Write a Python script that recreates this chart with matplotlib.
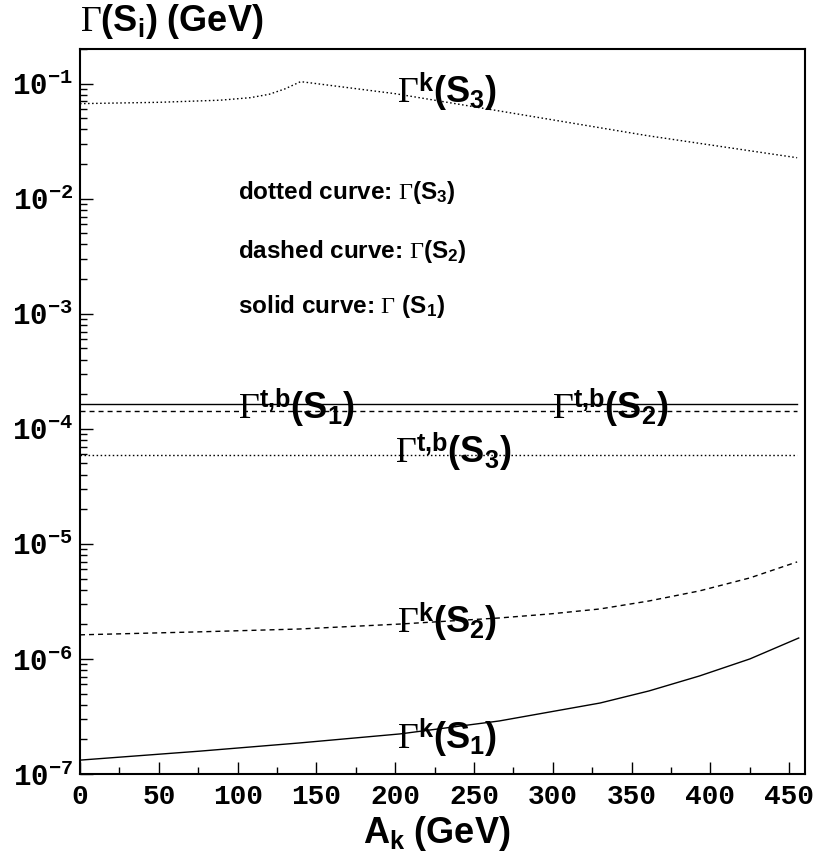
import numpy as np
import matplotlib
matplotlib.use("Agg")
import matplotlib.pyplot as plt
from matplotlib.ticker import FixedLocator, NullFormatter, FuncFormatter, MultipleLocator

plt.rcParams['mathtext.fontset'] = 'custom'
plt.rcParams['mathtext.rm'] = 'Liberation Serif'
plt.rcParams['mathtext.it'] = 'Liberation Serif'
plt.rcParams['mathtext.bf'] = 'Liberation Sans:bold'
plt.rcParams['mathtext.tt'] = 'Liberation Mono:bold'

# ---- data ----
x_k_s3 = [0, 50, 89, 108, 120, 130, 140, 170, 200, 265, 360, 455]
g_k_s3 = [0.0670, 0.0688, 0.0718, 0.0755, 0.0808, 0.0900, 0.1041, 0.0923, 0.0818, 0.0582, 0.0353, 0.0227]

x_k_s2 = [0, 76, 139, 203, 266, 298, 330, 361, 393, 425, 455]
g_k_s2 = [1.62e-6, 1.72e-6, 1.82e-6, 2.01e-6, 2.27e-6, 2.46e-6, 2.72e-6, 3.19e-6, 3.90e-6, 5.06e-6, 6.97e-6]

x_k_s1 = [0, 76, 139, 203, 266, 330, 361, 393, 425, 456]
g_k_s1 = [1.32e-7, 1.58e-7, 1.86e-7, 2.23e-7, 2.89e-7, 4.14e-7, 5.27e-7, 7.11e-7, 1.0e-6, 1.52e-6]

x_tb = [0, 455]
g_tb_s1 = [1.65e-4, 1.65e-4]
g_tb_s2 = [1.43e-4, 1.43e-4]
g_tb_s3 = [5.98e-5, 5.98e-5]

x_ticks = [0, 50, 100, 150, 200, 250, 300, 350, 400, 450]
y_exps = [-7, -6, -5, -4, -3, -2, -1]

W, H = 819, 861
fig = plt.figure(figsize=(W / 100, H / 100), dpi=100)
ax = fig.add_axes([80 / W, 1 - 774 / H, (805 - 80) / W, (774 - 49) / H])

dot = (0, (1.1, 1.8))
dash = (0, (3.6, 2.9))
lw = 1.0
ax.plot(x_k_s3, g_k_s3, color='black', lw=lw, linestyle=dot)
ax.plot(x_k_s2, g_k_s2, color='black', lw=lw, linestyle=dash)
ax.plot(x_k_s1, g_k_s1, color='black', lw=lw, linestyle='-')
ax.plot(x_tb, g_tb_s1, color='black', lw=lw, linestyle='-')
ax.plot(x_tb, g_tb_s2, color='black', lw=lw, linestyle=dash)
ax.plot(x_tb, g_tb_s3, color='black', lw=lw, linestyle=dot)

ax.set_yscale('log')
ax.set_xlim(0, 460)
ax.set_ylim(1e-7, 0.2)

ax.set_xticks(x_ticks)
ax.set_xticklabels([str(t) for t in x_ticks])
ax.xaxis.set_minor_locator(MultipleLocator(25))
majors = [10.0 ** e for e in y_exps]
minors = [m * 10.0 ** e for e in y_exps for m in range(2, 10) if m * 10.0 ** e <= 0.2]
ax.yaxis.set_major_locator(FixedLocator(majors))
ax.yaxis.set_minor_locator(FixedLocator(minors))
ax.yaxis.set_minor_formatter(NullFormatter())
ax.yaxis.set_major_formatter(FuncFormatter(
    lambda v, p: r'$\mathtt{10^{%d}}$' % int(round(np.log10(v)))))

for sp in ax.spines.values():
    sp.set_linewidth(1.5)
ax.tick_params(which='both', direction='in', top=False, right=False, width=1.0)
ax.tick_params(which='major', length=9)
ax.tick_params(which='minor', length=5)
ax.tick_params(axis='x', which='major', pad=7)
ax.tick_params(axis='y', which='major', pad=5)
for lab in ax.get_xticklabels():
    lab.set_fontfamily('Liberation Mono')
    lab.set_fontweight('bold')
    lab.set_fontsize(20)
for lab in ax.get_yticklabels():
    lab.set_fontsize(21)

big = 26
def pos(px, py):
    return (px - 80) / 1.5778, 10 ** (-1 - (py - 83) / 115)

labels = [
    ((397, 102), r'$\Gamma^{\mathbf{k}}\mathbf{(S_{3})}$'),
    ((238, 418), r'$\Gamma^{\mathbf{t{,}b}}\mathbf{(S_{1})}$'),
    ((553, 418), r'$\Gamma^{\mathbf{t{,}b}}\mathbf{(S_{2})}$'),
    ((395, 462), r'$\Gamma^{\mathbf{t{,}b}}\mathbf{(S_{3})}$'),
    ((397, 632), r'$\Gamma^{\mathbf{k}}\mathbf{(S_{2})}$'),
    ((397, 748), r'$\Gamma^{\mathbf{k}}\mathbf{(S_{1})}$'),
]
for (px, py), s in labels:
    x, y = pos(px, py)
    ax.text(x, y, s, fontsize=big, ha='left', va='baseline')

legend_lines = [
    ((238, 198), r'dotted curve: $\Gamma$(S$_{\mathbf{3}}$)'),
    ((238, 257), r'dashed curve: $\Gamma$(S$_{\mathbf{2}}$)'),
    ((238, 312), r'solid curve: $\Gamma$ (S$_{\mathbf{1}}$)'),
]
for (px, py), s in legend_lines:
    x, y = pos(px, py)
    ax.text(x, y, s, fontsize=17.5, fontfamily='Liberation Sans', fontweight='bold',
            ha='left', va='baseline')

fig.text(80 / W, 1 - 31 / H, r'$\Gamma\mathbf{(S_{i})\ (GeV)}$', fontsize=26,
         ha='left', va='baseline')
fig.text(363 / W, 1 - 843 / H, r'$\mathbf{A_{k}\ (GeV)}$', fontsize=26,
         ha='left', va='baseline')

fig.savefig('out.png', dpi=100)
